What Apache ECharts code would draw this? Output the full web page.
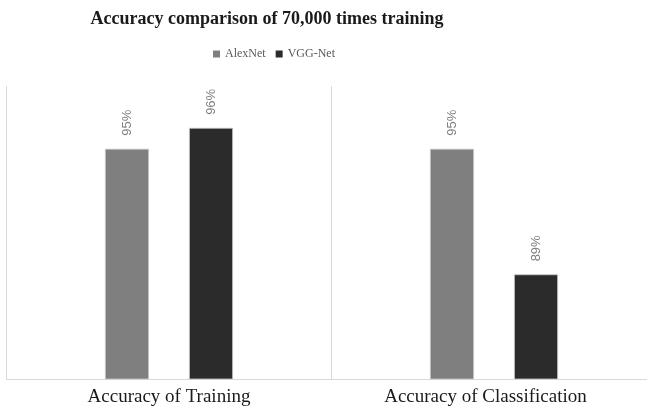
<!DOCTYPE html>
<html>
<head>
<meta charset="utf-8">
<script src="https://cdn.jsdelivr.net/npm/echarts@6/dist/echarts.min.js"></script>
<style>
  html, body { margin: 0; padding: 0; background: #fff; }
  #chart { width: 647px; height: 406px; }
</style>
</head>
<body>
<div id="chart"></div>
<script>
// Accuracy after 70,000 training iterations, per network
const categories = ['Accuracy of Training', 'Accuracy of Classification'];
const seriesNames = ['AlexNet', 'VGG-Net'];
const alexNetValues = [95, 95];
const vggNetValues = [96, 89];
const seriesColors = ['#7f7f7f', '#2b2b2b'];

const serif = "'Liberation Serif', 'DejaVu Serif', serif";
const sans = "'Liberation Sans', Arial, sans-serif";

function barSeries(name, values, color) {
  return {
    name: name,
    type: 'bar',
    data: values,
    barWidth: 44,
    barGap: '91%',
    itemStyle: { color: color, borderColor: '#c8c8c8', borderWidth: 0.8 },
    label: {
      show: true,
      position: 'top',
      rotate: 90,
      align: 'left',
      verticalAlign: 'middle',
      distance: 13,
      formatter: '{c}%',
      color: '#808080',
      fontFamily: sans,
      fontSize: 13
    }
  };
}

// the last category label is nudged left to stay clear of the canvas edge
const categoryData = categories.map(function (name, i) {
  return i === categories.length - 1
    ? { value: name, textStyle: { padding: [0, 17, 0, 0] } }
    : name;
});

const chart = echarts.init(document.getElementById('chart'), null, { renderer: 'canvas' });
chart.setOption({
  backgroundColor: '#fff',
  animation: false,
  title: {
    text: 'Accuracy comparison of 70,000 times training',
    left: 262,
    top: 5,
    textAlign: 'center',
    textStyle: { fontFamily: serif, fontSize: 18, fontWeight: 'bold', color: '#1a1a1a' }
  },
  legend: {
    data: seriesNames,
    left: 208,
    top: 43,
    icon: 'rect',
    itemWidth: 7,
    itemHeight: 7,
    itemGap: 10,
    itemStyle: { borderWidth: 0 },
    textStyle: { fontFamily: serif, fontSize: 12, color: '#595959' }
  },
  // the plot runs a little past the right edge of the canvas
  grid: {
    left: 6.5, right: -9.5, top: 86, bottom: 27,
    containLabel: false,
    outerBoundsMode: 'none'
  },
  xAxis: {
    type: 'category',
    data: categoryData,
    axisTick: { show: false },
    axisLine: { lineStyle: { color: '#d9d9d9', width: 1 } },
    splitLine: { show: true, lineStyle: { color: '#d9d9d9', width: 1 } },
    axisLabel: {
      fontFamily: serif,
      fontSize: 19,
      color: '#1a1a1a',
      margin: 9,
      interval: 0,
      showMaxLabel: true,
      hideOverlap: false
    }
  },
  yAxis: {
    type: 'value',
    min: 84,
    max: 98,
    show: false,
    splitLine: { show: false }
  },
  series: [
    barSeries(seriesNames[0], alexNetValues, seriesColors[0]),
    barSeries(seriesNames[1], vggNetValues, seriesColors[1])
  ]
});
</script>
</body>
</html>
